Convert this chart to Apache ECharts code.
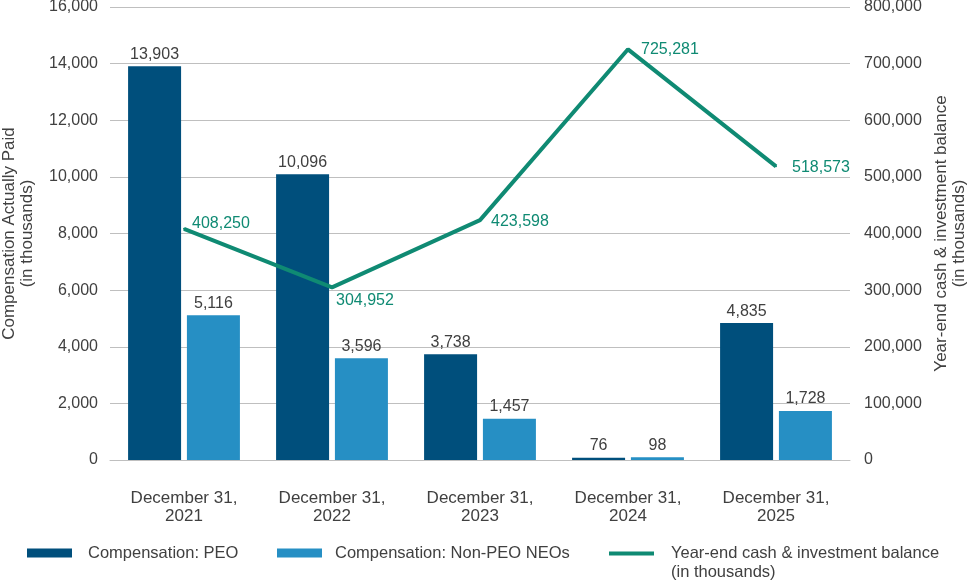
<!DOCTYPE html>
<html>
<head>
<meta charset="utf-8">
<script src="https://cdn.jsdelivr.net/npm/echarts@6/dist/echarts.min.js"></script>
<style>
  html, body { margin: 0; padding: 0; background: #fff; }
  #chart { width: 970px; height: 581px; }
</style>
</head>
<body>
<div id="chart"></div>
<script>
const categories = ['December 31,\n2021', 'December 31,\n2022', 'December 31,\n2023', 'December 31,\n2024', 'December 31,\n2025']
const peoValues = [13903, 10096, 3738, 76, 4835]
const neoValues = [5116, 3596, 1457, 98, 1728]
const cashValues = [408250, 304952, 423598, 725281, 518573]

const FONT = '"Liberation Sans", Arial, sans-serif'
const TEXT = '#404040'
const GRID = '#bfbfbf'
const PEO_COLOR = '#004f7c'
const NEO_COLOR = '#268fc4'
const LINE_COLOR = '#0f8a73'

// 折线标签的位置微调
const cashLabelOffsets = [[0, -5], [-4, 13], [3, 1], [5, 0], [8, 1]]

const chart = echarts.init(document.getElementById('chart'))

const option = {
  backgroundColor: '#fff',
  textStyle: { fontFamily: FONT },
  grid: { left: 110, right: 120, top: 7, bottom: 121, outerBoundsMode: 'none', containLabel: false },
  legend: [
    {
      left: 27, top: 543, padding: 0,
      itemWidth: 45, itemHeight: 9,
      textStyle: { fontSize: 16.5, color: TEXT, fontFamily: FONT, lineHeight: 20, padding: [0, 0, 0, 11] },
      data: [{ name: 'Compensation: PEO', icon: 'rect' }]
    },
    {
      left: 277, top: 543, padding: 0,
      itemWidth: 45, itemHeight: 9,
      textStyle: { fontSize: 16.5, color: TEXT, fontFamily: FONT, lineHeight: 20, padding: [0, 0, 0, 8] },
      data: [{ name: 'Compensation: Non-PEO NEOs', icon: 'rect' }]
    },
    {
      left: 609, top: 525, padding: 0,
      itemWidth: 45, itemHeight: 4,
      // 前置空行让图例图标对齐第一行文字
      formatter: function () { return '\nYear-end cash & investment balance\n(in thousands)' },
      textStyle: { fontSize: 16.5, color: TEXT, fontFamily: FONT, lineHeight: 19, padding: [0, 0, 0, 12] },
      data: [{ name: 'Year-end cash', icon: 'rect' }]
    }
  ],
  xAxis: {
    type: 'category',
    data: categories,
    axisLine: { lineStyle: { color: GRID, width: 1 } },
    axisTick: { show: false },
    axisLabel: { color: TEXT, fontSize: 17, lineHeight: 18, margin: 29, fontFamily: FONT }
  },
  yAxis: [
    {
      type: 'value',
      min: 0, max: 16000, interval: 2000,
      name: 'Compensation Actually Paid\n(in thousands)',
      nameLocation: 'middle',
      nameRotate: 90,
      nameGap: 74,
      nameTextStyle: { color: TEXT, fontSize: 17, lineHeight: 18, fontFamily: FONT },
      axisLine: { show: false },
      axisTick: { show: false },
      axisLabel: {
        color: TEXT, fontSize: 16, margin: 12, fontFamily: FONT,
        formatter: v => v.toLocaleString('en-US')
      },
      splitLine: { lineStyle: { color: GRID, width: 1 } }
    },
    {
      type: 'value',
      min: 0, max: 800000, interval: 100000,
      name: 'Year-end cash & investment balance\n(in thousands)',
      nameLocation: 'middle',
      nameRotate: 90,
      nameGap: 81,
      nameTextStyle: { color: TEXT, fontSize: 17, lineHeight: 18, fontFamily: FONT },
      axisLine: { show: false },
      axisTick: { show: false },
      axisLabel: {
        color: TEXT, fontSize: 16, margin: 14, fontFamily: FONT,
        formatter: v => v.toLocaleString('en-US')
      },
      splitLine: { show: false }
    }
  ],
  series: [
    {
      name: 'Compensation: PEO',
      type: 'bar',
      data: peoValues,
      barWidth: 53,
      barGap: '11%',
      itemStyle: { color: PEO_COLOR },
      label: {
        show: true, position: 'top', distance: 4,
        color: TEXT, fontSize: 16, fontFamily: FONT,
        formatter: p => p.value.toLocaleString('en-US')
      }
    },
    {
      name: 'Compensation: Non-PEO NEOs',
      type: 'bar',
      data: neoValues,
      barWidth: 53,
      barGap: '11%',
      itemStyle: { color: NEO_COLOR },
      label: {
        show: true, position: 'top', distance: 4,
        color: TEXT, fontSize: 16, fontFamily: FONT,
        formatter: p => p.value.toLocaleString('en-US')
      }
    },
    {
      name: 'Year-end cash',
      type: 'line',
      yAxisIndex: 1,
      data: cashValues.map((v, i) => ({
        value: v,
        label: { offset: cashLabelOffsets[i] }
      })),
      symbol: 'circle',
      symbolSize: 2,
      showSymbol: true,
      lineStyle: { color: LINE_COLOR, width: 4 },
      itemStyle: { color: LINE_COLOR },
      label: {
        show: true, position: 'right', distance: 7,
        color: LINE_COLOR, fontSize: 16, fontFamily: FONT,
        formatter: p => p.value.toLocaleString('en-US')
      },
      z: 5
    }
  ]
}

chart.setOption(option)

window.addEventListener('resize', () => chart.resize())
</script>
</body>
</html>
